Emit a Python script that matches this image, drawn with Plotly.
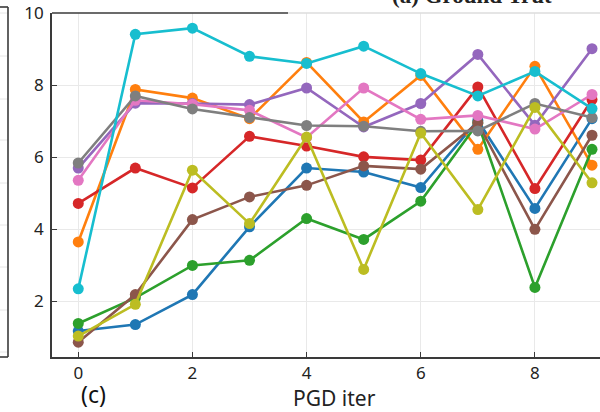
import plotly.graph_objects as go

# PGD iterations on the x axis
iters = [0, 1, 2, 3, 4, 5, 6, 7, 8, 9]

# one curve per sample (tab10 colour order)
s_blue = [1.18, 1.36, 2.19, 4.07, 5.70, 5.59, 5.16, 7.02, 4.58, 7.07]
s_orange = [3.65, 7.88, 7.64, 7.07, 8.63, 6.98, 8.27, 6.22, 8.52, 5.78]
s_green = [1.39, 2.10, 3.00, 3.14, 4.30, 3.72, 4.78, 6.95, 2.39, 6.22]
s_red = [4.72, 5.70, 5.15, 6.58, 6.31, 6.01, 5.92, 7.95, 5.13, 7.60]
s_purple = [5.70, 7.50, 7.49, 7.46, 7.92, 6.84, 7.49, 8.85, 6.89, 9.01]
s_brown = [0.87, 2.19, 4.27, 4.90, 5.22, 5.76, 5.67, 6.95, 4.00, 6.61]
s_pink = [5.36, 7.58, 7.47, 7.30, 6.55, 7.92, 7.05, 7.16, 6.78, 7.74]
s_gray = [5.84, 7.70, 7.34, 7.10, 6.88, 6.86, 6.72, 6.73, 7.49, 7.10]
s_olive = [1.04, 1.92, 5.64, 4.16, 6.56, 2.89, 6.67, 4.55, 7.38, 5.29]
s_cyan = [2.35, 9.41, 9.58, 8.80, 8.60, 9.08, 8.32, 7.70, 8.38, 7.35]

series = [s_blue, s_orange, s_green, s_red, s_purple,
          s_brown, s_pink, s_gray, s_olive, s_cyan]
colors = ["#1f77b4", "#ff7f0e", "#2ca02c", "#d62728", "#9467bd",
          "#8c564b", "#e377c2", "#7f7f7f", "#bcbd22", "#17becf"]

x_ticks = [0, 2, 4, 6, 8]
y_ticks = [2, 4, 6, 8, 10]

W, H = 600, 412
ML, MR, MT, MB = 52, 0, 13, 55
PW, PH = W - ML - MR, H - MT - MB


def px_x(p):
    return (p - ML) / PW


def px_y(p):
    return (H - MB - p) / PH


fig = go.Figure()
for ys, c in zip(series, colors):
    fig.add_trace(go.Scatter(
        x=iters, y=ys, mode="lines+markers",
        line=dict(color=c, width=2.6),
        marker=dict(color=c, size=11),
        showlegend=False,
    ))

axis_font = dict(family="Noto Sans", size=17, color="#222222")
spine = "#3a3a3a"
grid = "#e9e9e9"

fig.update_xaxes(
    range=[-0.46, 9.14], tickvals=x_ticks, ticks="inside", ticklen=5,
    tickcolor=spine, showline=True, linecolor=spine, linewidth=1.6,
    showgrid=True, gridcolor=grid, gridwidth=1, zeroline=False,
    tickfont=axis_font,
)
fig.update_yaxes(
    range=[0.46, 10], tickvals=y_ticks, ticks="inside", ticklen=5,
    tickcolor=spine, showline=True, linecolor=spine, linewidth=1.6,
    showgrid=True, gridcolor=grid, gridwidth=1, zeroline=False,
    tickfont=axis_font, ticklabelstandoff=3,
)

shapes = []
# top frame: dark part, then the lighter neighbouring frame
shapes.append(dict(type="line", xref="paper", yref="paper",
                   x0=0, x1=px_x(288), y0=1, y1=1,
                   line=dict(color=spine, width=1.6)))
shapes.append(dict(type="line", xref="paper", yref="paper",
                   x0=px_x(288), x1=1, y0=1, y1=1,
                   line=dict(color="#dcdcdc", width=1.6)))
# neighbouring panel on the left edge
for gy in [13, 56, 99, 140, 183, 225, 267, 310, 352]:
    shapes.append(dict(type="line", xref="paper", yref="paper",
                       x0=px_x(0), x1=px_x(8), y0=px_y(gy), y1=px_y(gy),
                       line=dict(color="#e6e6e6", width=1)))
shapes.append(dict(type="line", xref="paper", yref="paper",
                   x0=px_x(8), x1=px_x(8), y0=px_y(7), y1=px_y(357),
                   line=dict(color=spine, width=1.6)))
shapes.append(dict(type="line", xref="paper", yref="paper",
                   x0=px_x(0), x1=px_x(8), y0=px_y(7), y1=px_y(7),
                   line=dict(color=spine, width=1.6)))
shapes.append(dict(type="line", xref="paper", yref="paper",
                   x0=px_x(0), x1=px_x(8), y0=px_y(357), y1=px_y(357),
                   line=dict(color=spine, width=1.6)))

annotations = [
    dict(text="PGD iter", xref="paper", yref="paper",
         x=px_x(334), y=px_y(398), xanchor="center", yanchor="middle",
         showarrow=False, font=dict(family="Noto Sans", size=21, color="#222222")),
    dict(text="(c)", xref="paper", yref="paper",
         x=px_x(93), y=px_y(394), xanchor="center", yanchor="middle",
         showarrow=False, font=dict(family="Noto Sans", size=23, color="#111111")),
    dict(text="<b>(a) Ground Trut</b>", xref="paper", yref="paper",
         x=px_x(390), y=px_y(10), xanchor="left", yanchor="bottom",
         showarrow=False, font=dict(family="Liberation Serif", size=23, color="#222222")),
]

fig.update_layout(
    width=W, height=H,
    margin=dict(l=ML, r=MR, t=MT, b=MB),
    paper_bgcolor="white", plot_bgcolor="white",
    shapes=shapes, annotations=annotations,
)

fig.write_html("out.html")
